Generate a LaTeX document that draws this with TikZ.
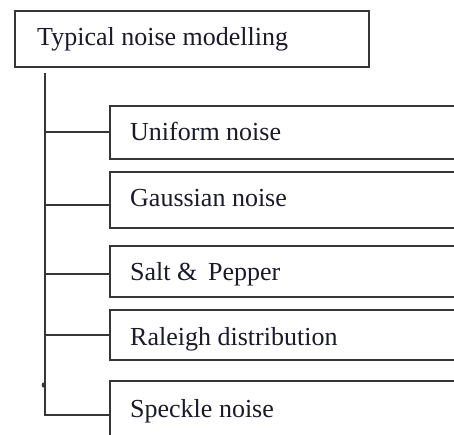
\documentclass[tikz,border=0pt]{standalone}
\usepackage{fontspec}
\setmainfont{Liberation Serif}
\definecolor{ink}{HTML}{363636}
\definecolor{txt}{HTML}{1A1A2A}
\tikzset{
  box/.style={draw=ink, line width=1.6pt, rectangle, anchor=north west,
    text=txt, font=\fontsize{26}{31}\selectfont, text height=0.7em, text depth=0.2em},
  parentbox/.style={box, minimum width=354pt, minimum height=56pt, inner xsep=0pt},
  childbox/.style={box, minimum width=370pt, inner xsep=0pt},
  wire/.style={draw=ink, line width=1.6pt},
  label/.style={anchor=west, text=txt, font=\fontsize{26}{31}\selectfont,
      text height=0.7em, text depth=0.2em, inner sep=0pt}
}
\begin{document}
\begin{tikzpicture}[x=1pt, y=-1pt]
  \useasboundingbox (0,0) rectangle (454,435);
  \clip (0,0) rectangle (454,435);
  \fill[white] (0,0) rectangle (454,435);

  % root of the tree
  \node[parentbox] (root) at (14,10) {};
  \node[label] (roottext) at (37,43.5) {Typical noise modelling};

  % leaves
  \node[childbox, minimum height=53pt] (uniform) at (109,105) {};
  \node[childbox, minimum height=56pt] (gauss) at (109,171) {};
  \node[childbox, minimum height=51pt] (salt) at (109,245) {};
  \node[childbox, minimum height=50pt] (raleigh) at (109,309) {};
  \node[childbox, minimum height=58pt] (speckle) at (109,380) {};

  \node[label] (tu) at (130,138) {Uniform noise};
  \node[label] (tg) at (130,204.5) {Gaussian noise};
  \node[label] (ts) at (130,277.5) {Salt \& \,Pepper};
  \node[label] (tr) at (130,342.5) {Raleigh distribution};
  \node[label] (tk) at (130,414.5) {Speckle noise};

  % trunk and branches
  \coordinate (top) at (45,73);
  \coordinate (bottom) at (45,415);
  \draw[wire] (top) -- (bottom) -- (bottom -| speckle.west);
  \draw[wire] (uniform.west -| top) -- (uniform.west);
  \draw[wire] ([yshift=-5.5pt]gauss.west -| top) -- ([yshift=-5.5pt]gauss.west);
  \draw[wire] ([yshift=-2.5pt]salt.west -| top) -- ([yshift=-2.5pt]salt.west);
  \draw[wire] (raleigh.west -| top) -- (raleigh.west);
  \coordinate (tick) at (43.5,385);
  \fill[ink] (tick) ellipse (1.8pt and 2.5pt);
\end{tikzpicture}
\end{document}
